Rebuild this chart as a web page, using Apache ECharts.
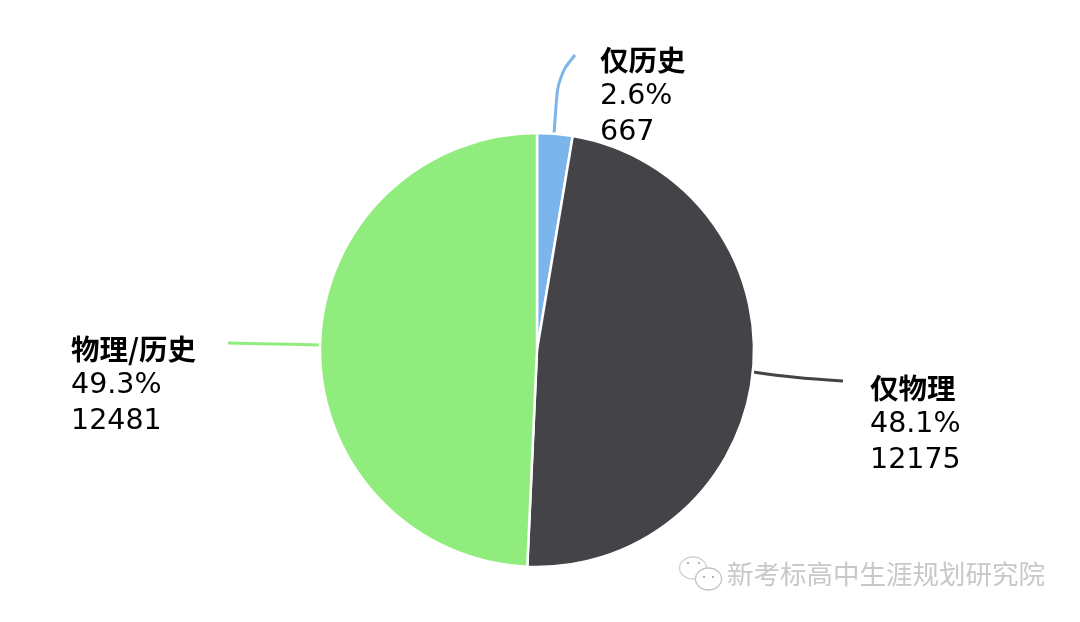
<!DOCTYPE html>
<html lang="zh">
<head>
    <meta charset="UTF-8">
    <title>选科人数</title>
    <script src="https://cdn.jsdelivr.net/npm/echarts@6/dist/echarts.min.js"></script>
    <style>
        html, body { margin: 0; padding: 0; background: #fff; }
    </style>
</head>
<body>
<div id="main" style="width: 1080px; height: 622px"></div>
<script>
    var names = ['仅历史', '仅物理', '物理/历史'];
    var values = [667, 12175, 12481];
    var percents = ['2.6%', '48.1%', '49.3%'];
    var colors = ['#7cb5ec', '#434348', '#90ed7d'];
    var watermark = '新考标高中生涯规划研究院';

    // 标签位置和引导线，按原图摆放
    var labelBoxes = [
        {x: 600, y: 42},
        {x: 870, y: 370},
        {x: 71, y: 331}
    ];
    var guideLines = [
        [[554, 134], [558, 76], [575, 55]],
        [[753, 372], [795, 378], [843, 381]],
        [[320, 345], [275, 344], [228, 343]]
    ];

    var myChart = echarts.init(document.getElementById('main'));
    var option = {
        backgroundColor: '#fff',
        animation: false,
        graphic: [
            // 水印图标
            {type: 'ellipse', shape: {cx: 693, cy: 568, rx: 13.5, ry: 11}, style: {fill: '#fff', stroke: '#d2d2d2', lineWidth: 1.3}},
            {type: 'ellipse', shape: {cx: 708.5, cy: 579, rx: 13, ry: 11}, style: {fill: '#fff', stroke: '#c4c4c4', lineWidth: 1.3}},
            {type: 'circle', shape: {cx: 688, cy: 563, r: 1}, style: {fill: '#999'}},
            {type: 'circle', shape: {cx: 699, cy: 563, r: 1}, style: {fill: '#999'}},
            {type: 'circle', shape: {cx: 704, cy: 577, r: 1}, style: {fill: '#999'}},
            {type: 'circle', shape: {cx: 713, cy: 577, r: 1}, style: {fill: '#999'}},
            {
                type: 'text', left: 727, top: 561,
                style: {
                    text: watermark,
                    fontFamily: 'Noto Sans CJK SC',
                    fontSize: 26.5,
                    fill: '#c8c8c8'
                }
            }
        ],
        series: [{
            type: 'pie',
            center: [537, 350],
            radius: [0, 217],
            startAngle: 90,
            clockwise: true,
            itemStyle: {borderColor: '#fff', borderWidth: 2.5},
            label: {
                show: true,
                formatter: function (p) {
                    return '{n|' + p.name + '}\n{v|' + percents[p.dataIndex] + '}\n{v|' + p.value + '}';
                },
                rich: {
                    n: {fontFamily: 'Noto Sans CJK SC', fontWeight: 'bold', fontSize: 28.5, color: '#000', height: 37, lineHeight: 37},
                    v: {fontFamily: 'DejaVu Sans', fontSize: 28.5, color: '#000', height: 36, lineHeight: 36}
                },
                align: 'left'
            },
            labelLine: {show: true, smooth: 0.4, lineStyle: {width: 3}},
            labelLayout: function (params) {
                var i = params.dataIndex;
                return {
                    x: labelBoxes[i].x,
                    y: labelBoxes[i].y,
                    align: 'left',
                    verticalAlign: 'top',
                    labelLinePoints: guideLines[i]
                };
            },
            data: names.map(function (name, i) {
                return {name: name, value: values[i], itemStyle: {color: colors[i]}};
            })
        }]
    };
    myChart.setOption(option);
</script>
</body>
</html>
